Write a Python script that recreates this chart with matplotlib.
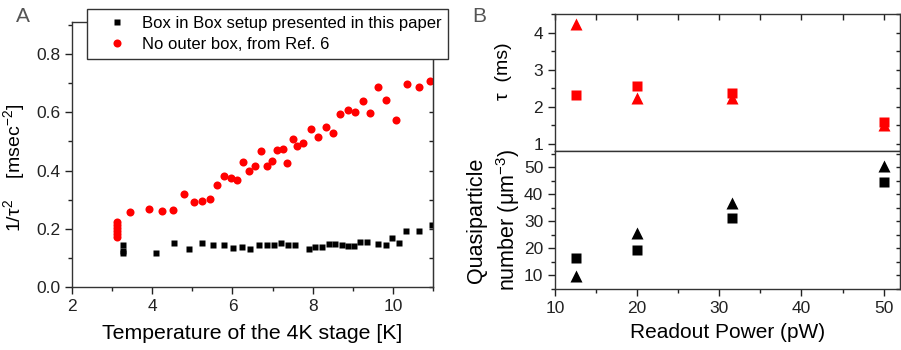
import matplotlib
matplotlib.use("Agg")
import matplotlib.pyplot as plt
from matplotlib.ticker import MultipleLocator

plt.rcParams['font.family'] = ['Liberation Sans', 'DejaVu Sans']
plt.rcParams['mathtext.fontset'] = 'custom'
plt.rcParams['mathtext.rm'] = 'Liberation Sans'
plt.rcParams['mathtext.it'] = 'Liberation Sans:italic'
plt.rcParams['mathtext.default'] = 'regular'

# ---- Panel A data ----
box_T = [3.26, 3.26, 3.26, 4.10, 4.54, 4.92, 5.24, 5.51, 5.78, 6.01, 6.24, 6.44,
         6.65, 6.85, 7.03, 7.21, 7.39, 7.56, 7.91, 8.07, 8.23, 8.40, 8.56, 8.72,
         8.87, 9.03, 9.19, 9.35, 9.64, 9.82, 9.99, 10.16, 10.33, 10.66, 10.98]
box_val = [0.143, 0.125, 0.118, 0.118, 0.152, 0.132, 0.152, 0.143, 0.143, 0.134, 0.136, 0.129,
           0.144, 0.144, 0.144, 0.151, 0.144, 0.144, 0.129, 0.136, 0.139, 0.148, 0.148, 0.145,
           0.140, 0.140, 0.155, 0.156, 0.147, 0.144, 0.168, 0.152, 0.193, 0.193, 0.214]

ref_T = [3.13, 3.13, 3.13, 3.13, 3.13, 3.13, 3.45, 3.92, 4.25, 4.53, 4.79, 5.03, 5.23,
         5.43, 5.62, 5.78, 5.96, 6.12, 6.27, 6.42, 6.57, 6.71, 6.85, 6.98, 7.11,
         7.25, 7.37, 7.50, 7.62, 7.75, 7.95, 8.14, 8.33, 8.51, 8.69, 8.89, 9.06,
         9.25, 9.44, 9.62, 9.82, 10.08, 10.36, 10.64, 10.92]
ref_val = [0.222, 0.212, 0.202, 0.192, 0.181, 0.170, 0.257, 0.269, 0.260, 0.264, 0.320, 0.292, 0.297,
           0.303, 0.351, 0.380, 0.374, 0.369, 0.429, 0.400, 0.416, 0.466, 0.416, 0.434, 0.470,
           0.473, 0.425, 0.509, 0.485, 0.494, 0.542, 0.514, 0.548, 0.529, 0.594, 0.608, 0.601,
           0.639, 0.597, 0.686, 0.642, 0.574, 0.697, 0.686, 0.709]

# ---- Panel B data ----
power = [12.6, 20.0, 31.6, 50.1]
tau_sq = [2.30, 2.56, 2.36, 1.57]
tau_tri = [4.22, 2.22, 2.22, 1.50]
qp_sq = [16.6, 19.3, 31.3, 44.5]
qp_tri = [9.9, 25.6, 36.6, 50.5]

W, H = 901, 350
fig = plt.figure(figsize=(W / 100, H / 100), dpi=100)


def rect(x0, y0, x1, y1):
    return [x0 / W, 1 - y1 / H, (x1 - x0) / W, (y1 - y0) / H]


spc = '#333333'
TL = 12.5


def style(ax, ymaj, ymin, xmaj, xmin):
    for s in ax.spines.values():
        s.set_color(spc)
        s.set_linewidth(1.0)
    ax.xaxis.set_major_locator(MultipleLocator(xmaj))
    ax.xaxis.set_minor_locator(MultipleLocator(xmin))
    ax.yaxis.set_major_locator(MultipleLocator(ymaj))
    ax.yaxis.set_minor_locator(MultipleLocator(ymin))
    ax.tick_params(which='both', direction='out', top=False, right=False,
                   colors='#222222', labelsize=TL, width=1)
    ax.tick_params(which='major', length=5)
    ax.tick_params(which='minor', length=3)
    sec = ax.secondary_yaxis('right')
    sec.spines['right'].set_color(spc)
    sec.yaxis.set_major_locator(MultipleLocator(ymaj))
    sec.yaxis.set_minor_locator(MultipleLocator(ymin))
    sec.tick_params(which='both', direction='in', length=3, width=1,
                    labelright=False, colors='#222222')
    return sec


# Panel A
axA = fig.add_axes(rect(72, 22, 433, 287))
axA.set_xlim(2, 11)
axA.set_ylim(0, 0.91)
style(axA, 0.2, 0.1, 2, 1)
hA1, = axA.plot(box_T, box_val, 's', color='black', ms=5, mec='none',
                label='Box in Box setup presented in this paper')
hA2, = axA.plot(ref_T, ref_val, 'o', color='#ff0000', ms=5.8, mec='none',
                label='No outer box, from Ref. 6')
axA.set_xlabel('Temperature of the 4K stage [K]', fontsize=15.3)
axA.xaxis.set_label_coords(0.5, -0.14)
axA.set_ylabel('1/τ$^2$    [msec$^{-2}$]', fontsize=14)
axA.yaxis.set_label_coords(-0.125, 0.45)

leg = fig.legend(handles=[hA1, hA2], loc='upper left', bbox_to_anchor=(87 / W, 1 - 9 / H),
                 bbox_transform=fig.transFigure, fontsize=12, frameon=True,
                 fancybox=False, edgecolor='#333333', framealpha=1,
                 borderaxespad=0, handlelength=2.7, handletextpad=0.15,
                 borderpad=0.42, labelspacing=0.35, markerscale=1.0)
leg.get_frame().set_linewidth(1.0)

fig.text(16 / W, 1 - 16 / H, 'A', fontsize=15, color='#555555', va='center', ha='left')
fig.text(472 / W, 1 - 16 / H, 'B', fontsize=15, color='#555555', va='center', ha='left')

# Panel B top
axT = fig.add_axes(rect(555, 14, 900, 151))
axT.set_xlim(10, 52)
axT.set_ylim(0.8, 4.5)
style(axT, 1, 0.5, 10, 5)
axT.plot(power, tau_tri, '^', color='#ff0000', ms=9, mec='none')
axT.plot(power, tau_sq, 's', color='#ff0000', ms=7.5, mec='none')
axT.tick_params(axis='x', which='both', bottom=False, top=True, direction='in',
                labelbottom=False, length=4)
axT.set_ylabel('τ  (ms)', fontsize=14)
axT.yaxis.set_label_coords(-0.125, 0.58)

# Panel B bottom
axB = fig.add_axes(rect(555, 151, 900, 289))
axB.set_xlim(10, 52)
axB.set_ylim(5, 56)
style(axB, 10, 5, 10, 5)
axB.plot(power, qp_tri, '^', color='black', ms=9, mec='none')
axB.plot(power, qp_sq, 's', color='black', ms=7.5, mec='none')
axB.set_xlabel('Readout Power (pW)', fontsize=15)
axB.xaxis.set_label_coords(0.5, -0.25)
axB.set_ylabel('Quasiparticle\nnumber (μm$^{-3}$)', fontsize=15.5, linespacing=1.35)
axB.yaxis.set_label_coords(-0.095, 0.5)

fig.savefig('out.png', dpi=100)
